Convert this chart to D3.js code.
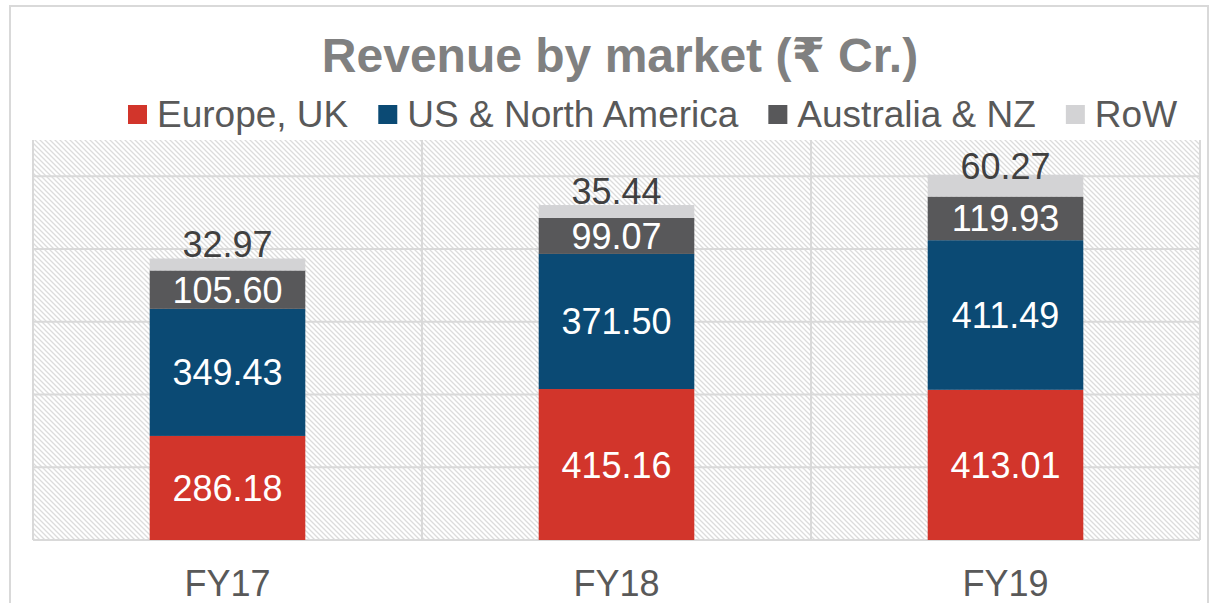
<!DOCTYPE html>
<html>
<head>
<meta charset="utf-8">
<script src="https://cdn.jsdelivr.net/npm/d3@7"></script>
<style>
  body { margin: 0; background: #fff; }
  svg text { font-family: "Liberation Sans", Arial, "DejaVu Sans", sans-serif; }
</style>
</head>
<body>
<div id="chart"></div>
<script>
const years = ['FY17', 'FY18', 'FY19'];
const markets = ['Europe, UK', 'US & North America', 'Australia & NZ', 'RoW'];
const europe = [286.18, 415.16, 413.01];
const usNA = [349.43, 371.50, 411.49];
const ausNZ = [105.60, 99.07, 119.93];
const row = [32.97, 35.44, 60.27];
const gridTicks = [0, 200, 400, 600, 800, 1000];

const width = 1209, height = 603;
const colors = ['#d2352b', '#0b4a74', '#58585a', '#d3d3d5'];
const labelColors = ['#ffffff', '#ffffff', '#ffffff', '#404040'];

const svg = d3.select('#chart').append('svg')
  .attr('width', width)
  .attr('height', height);

// hatch pattern for plot area
const defs = svg.append('defs');
const pat = defs.append('pattern')
  .attr('id', 'hatch')
  .attr('patternUnits', 'userSpaceOnUse')
  .attr('width', 5).attr('height', 5);
pat.append('rect').attr('width', 5).attr('height', 5).attr('fill', '#fff');
pat.append('path')
  .attr('d', 'M0,0 L5,5 M-1,4 L1,6 M4,-1 L6,1')
  .attr('stroke', '#dcdcdc')
  .attr('stroke-width', 1.3);

// chart border
svg.append('rect')
  .attr('x', 10).attr('y', 6)
  .attr('width', 1198).attr('height', 620)
  .attr('fill', 'none')
  .attr('stroke', '#d9d9d9')
  .attr('stroke-width', 2);

const plot = { left: 33, right: 1200, top: 140, bottom: 540 };

const x = d3.scaleBand().domain(years).range([plot.left, plot.right]).padding(0);
const y = d3.scaleLinear().domain([0, 1100]).range([plot.bottom, plot.top]);

svg.append('rect')
  .attr('x', plot.left).attr('y', plot.top)
  .attr('width', plot.right - plot.left).attr('height', plot.bottom - plot.top)
  .attr('fill', 'url(#hatch)');

// horizontal gridlines
svg.selectAll('.hgrid')
  .data(gridTicks)
  .enter().append('line')
  .attr('x1', plot.left).attr('x2', plot.right)
  .attr('y1', d => y(d)).attr('y2', d => y(d))
  .attr('stroke', '#d9d9d9')
  .attr('stroke-width', 2);

// vertical gridlines at category boundaries
const bounds = years.map(d => x(d)).concat([plot.right]);
svg.selectAll('.vgrid')
  .data(bounds)
  .enter().append('line')
  .attr('x1', d => d).attr('x2', d => d)
  .attr('y1', plot.top).attr('y2', plot.bottom)
  .attr('stroke', '#d9d9d9')
  .attr('stroke-width', 2);

// stacked data
const table = years.map((yr, i) => ({
  year: yr,
  [markets[0]]: europe[i],
  [markets[1]]: usNA[i],
  [markets[2]]: ausNZ[i],
  [markets[3]]: row[i]
}));
const series = d3.stack().keys(markets)(table);

const barW = x.bandwidth() * 0.4;

const groups = svg.selectAll('.series')
  .data(series)
  .enter().append('g')
  .attr('fill', (d, i) => colors[i]);

groups.selectAll('rect')
  .data(d => d)
  .enter().append('rect')
  .attr('x', d => x(d.data.year) + (x.bandwidth() - barW) / 2)
  .attr('y', d => y(d[1]))
  .attr('width', barW)
  .attr('height', d => y(d[0]) - y(d[1]));

// value labels
series.forEach((s, si) => {
  svg.selectAll('.lbl' + si)
    .data(s)
    .enter().append('text')
    .attr('x', d => x(d.data.year) + x.bandwidth() / 2)
    .attr('y', d => {
      const mid = (y(d[0]) + y(d[1])) / 2;
      return si === 3 ? mid - 7 : mid + 13;
    })
    .attr('text-anchor', 'middle')
    .attr('fill', labelColors[si])
    .style('font-size', '36px')
    .text(d => (d[1] - d[0]).toFixed(2));
});

// category labels
svg.selectAll('.cat')
  .data(years)
  .enter().append('text')
  .attr('x', d => x(d) + x.bandwidth() / 2)
  .attr('y', 596)
  .attr('text-anchor', 'middle')
  .attr('fill', '#595959')
  .style('font-size', '36px')
  .text(d => d);

// title
svg.append('text')
  .attr('x', 620).attr('y', 72)
  .attr('text-anchor', 'middle')
  .attr('fill', '#808080')
  .style('font-size', '48px')
  .style('font-weight', 'bold')
  .text('Revenue by market (₹ Cr.)');

// legend
const legend = svg.append('g');
let lx = 128;
markets.forEach((m, i) => {
  legend.append('rect')
    .attr('x', lx).attr('y', 105)
    .attr('width', 19).attr('height', 19)
    .attr('fill', colors[i]);
  const t = legend.append('text')
    .attr('x', lx + 29).attr('y', 127)
    .attr('fill', '#595959')
    .style('font-size', '37px')
    .text(m);
  lx += 29 + t.node().getComputedTextLength() + 30;
});
</script>
</body>
</html>
